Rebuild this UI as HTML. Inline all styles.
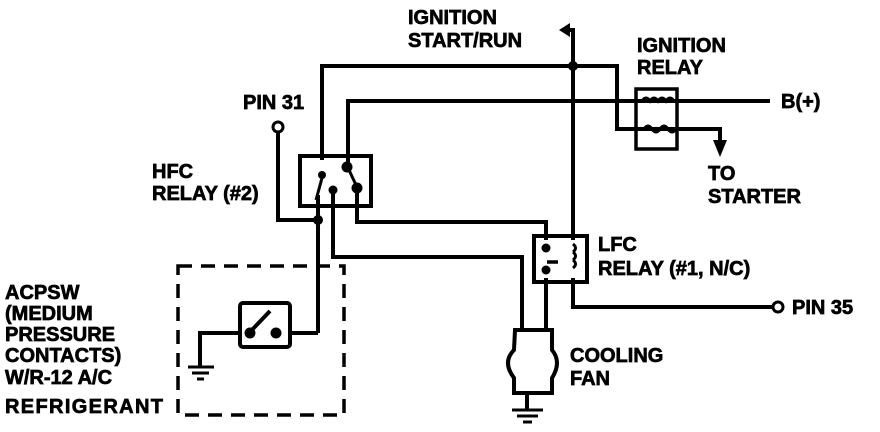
<!DOCTYPE html>
<html><head><style>
body{margin:0;background:#fff;}
svg{display:block;}
text{font-family:"Liberation Sans",sans-serif;font-weight:bold;font-size:20px;fill:#000;stroke:#000;stroke-width:0.7;}
</style></head><body>
<svg width="880" height="432" viewBox="0 0 880 432" xmlns="http://www.w3.org/2000/svg">
<g fill="none" stroke="#000" stroke-width="4" stroke-linejoin="miter">
<polyline points="322,160 322,66 617,66 617,129 720,129 720,150"/>
<polyline points="348,168 348,101 770,101"/>
<polyline points="573,240 573,30 565,30"/>
<rect x="636" y="89" width="41" height="60" stroke-width="3.5"/>
<rect x="300" y="156" width="71" height="50"/>
<polyline points="278,133 278,220 318,220"/>
<line x1="318" y1="195" x2="318" y2="333"/>
<polyline points="290,333 318,333"/>
<rect x="240" y="303" width="50" height="44" rx="3"/>
<polyline points="240,333 200,333 200,367"/>
<polyline points="333,192 333,257 522,257 522,330"/>
<polyline points="357,188 357,222 546,222 546,240"/>
<rect x="534" y="236" width="53" height="46"/>
<line x1="546" y1="278" x2="546" y2="330"/>
<polyline points="573,278 573,307 773,307"/>
<path d="M515,330 L552,330 L552,350 Q562,362 552,378 L552,393 L514,393 L514,378 Q502,362 514,350 Z"/>
<line x1="527" y1="393" x2="527" y2="410"/>
</g>
<rect x="178" y="266" width="166" height="149" fill="none" stroke="#000" stroke-width="3.5" stroke-dasharray="14,9"/>
<g stroke="#000" stroke-width="3">
<line x1="188" y1="367" x2="214" y2="367"/><line x1="192" y1="373" x2="209" y2="373"/><line x1="197" y1="379" x2="204" y2="379"/>
<line x1="512" y1="410" x2="543" y2="410"/><line x1="517" y1="416" x2="538" y2="416"/><line x1="523" y1="422" x2="532" y2="422"/>
<line x1="249" y1="333" x2="270" y2="311" stroke-width="4"/>
<line x1="547" y1="262" x2="558" y2="262" stroke-width="3.5"/>
</g>
<g fill="#000">
<circle cx="573" cy="66" r="5"/>
<circle cx="318" cy="220" r="5"/>
<circle cx="250" cy="333" r="5.5"/><circle cx="276" cy="333" r="5.5"/>
<circle cx="347" cy="167" r="5.5"/><circle cx="357" cy="188" r="5.5"/><circle cx="333" cy="190" r="4.5"/>
<circle cx="322" cy="175" r="4"/>
<circle cx="546" cy="248" r="4.5"/><circle cx="546" cy="270" r="4.5"/>
<polygon points="713,140 727,140 720,157"/>
<polygon points="559,30 570,23 570,37"/>
</g>
<g fill="none" stroke="#000" stroke-width="3">
<line x1="349" y1="170" x2="356" y2="185"/>
<line x1="322" y1="178" x2="316" y2="200"/>
<path d="M573,244 q5,4 0,8 M573,252 q5,4 0,8 M573,260 q5,4 0,8"/>
<path d="M642,101 q4,-6 8,0 q4,-6 8,0 q4,-6 8,0 q4,-6 8,0"/>
<path d="M644,129 q4,-6 8,0 q4,6 8,0 q4,-6 8,0 q4,6 8,0"/>
<circle cx="278" cy="127" r="5"/>
<circle cx="778" cy="307" r="5"/>
</g>
<text x="408" y="24">IGNITION</text>
<text x="408" y="47">START/RUN</text>
<text x="637" y="52">IGNITION</text>
<text x="637" y="74">RELAY</text>
<text x="243" y="109">PIN 31</text>
<text x="781" y="108">B(+)</text>
<text x="152" y="178">HFC</text>
<text x="152" y="200">RELAY (#2)</text>
<text x="708" y="180">TO</text>
<text x="708" y="203">STARTER</text>
<text x="598" y="251">LFC</text>
<text x="598" y="275">RELAY (#1, N/C)</text>
<text x="792" y="314">PIN 35</text>
<text x="570" y="362">COOLING</text>
<text x="570" y="385">FAN</text>
<text x="5" y="299">ACPSW</text>
<text x="5" y="320">(MEDIUM</text>
<text x="5" y="341">PRESSURE</text>
<text x="5" y="362">CONTACTS)</text>
<text x="5" y="384">W/R-12 A/C</text>
<text x="5" y="413" textLength="158" lengthAdjust="spacing">REFRIGERANT</text>
</svg>
</body></html>
